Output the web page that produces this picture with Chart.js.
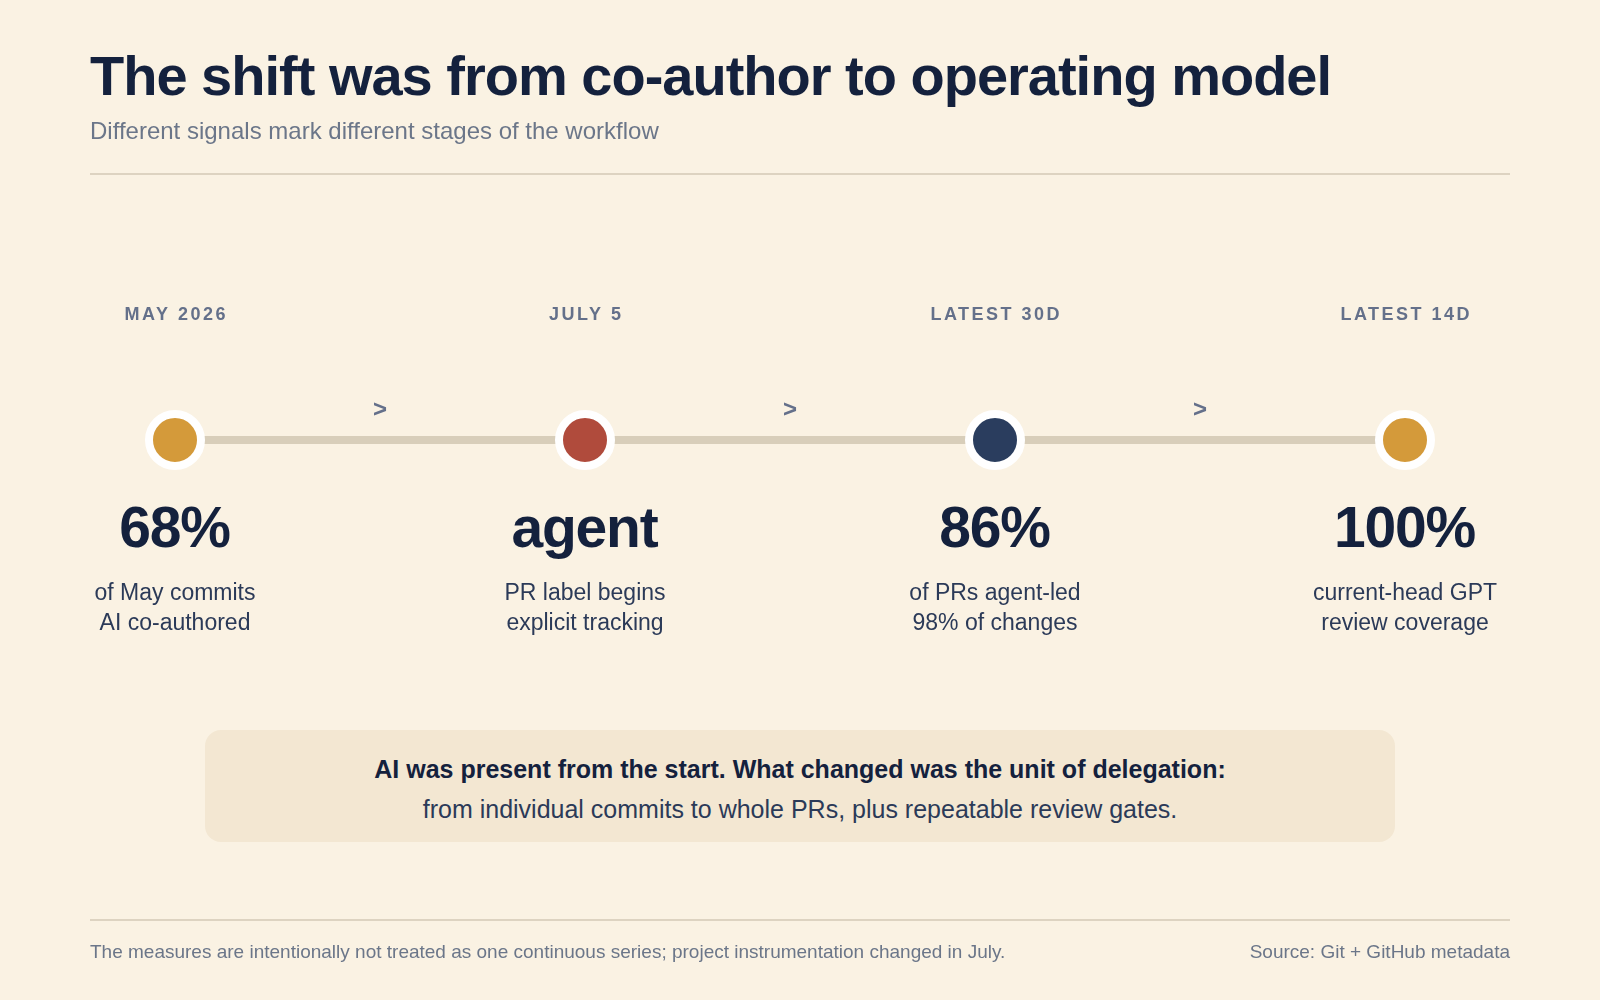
<!DOCTYPE html>
<html>
<head>
<meta charset="utf-8">
<script src="https://cdn.jsdelivr.net/npm/chart.js@4.4.1/dist/chart.umd.min.js"></script>
<style>
  html, body { margin: 0; padding: 0; }
  body {
    width: 1600px; height: 1000px; position: relative; overflow: hidden;
    background: #faf2e3;
    font-family: "Liberation Sans", Arial, Helvetica, sans-serif;
  }
  #timeline { position: absolute; left: 0; top: 0; }
  .abs { position: absolute; white-space: nowrap; }
  h1 {
    margin: 0; left: 90px; top: 47.6px;
    font-size: 56px; line-height: 56px; font-weight: 700; color: #14213d;
    letter-spacing: -1px;
  }
  .sub {
    left: 90px; top: 119.2px;
    font-size: 24px; line-height: 24px; color: #6b7689;
  }
  .rule { left: 90px; width: 1420px; height: 2px; background: #ddd3c1; }
  .callout {
    left: 205px; top: 730px; width: 1190px; height: 112px;
    background: #f3e7d2; border-radius: 16px;
    text-align: center; box-sizing: border-box; padding-top: 18.6px;
    font-size: 25px; line-height: 40px; color: #2b3a58;
  }
  .callout b { color: #14213d; }
  .foot {
    top: 942.2px; font-size: 19px; line-height: 19px; color: #6b7689;
  }
</style>
</head>
<body>
<canvas id="timeline" width="1600" height="1000"></canvas>

<h1 class="abs">The shift was from co-author to operating model</h1>
<div class="abs sub">Different signals mark different stages of the workflow</div>
<div class="abs rule" style="top:173px"></div>

<div class="abs callout">
  <b>AI was present from the start. What changed was the unit of delegation:</b><br>
  from individual commits to whole PRs, plus repeatable review gates.
</div>

<div class="abs rule" style="top:919px"></div>
<div class="abs foot" style="left:90px">The measures are intentionally not treated as one continuous series; project instrumentation changed in July.</div>
<div class="abs foot" style="right:90px">Source: Git + GitHub metadata</div>

<script>
// timeline data
var stages = ['MAY 2026', 'JULY 5', 'LATEST 30D', 'LATEST 14D'];
var headlines = ['68%', 'agent', '86%', '100%'];
var notesTop = ['of May commits', 'PR label begins', 'of PRs agent-led', 'current-head GPT'];
var notesBottom = ['AI co-authored', 'explicit tracking', '98% of changes', 'review coverage'];
var nodeColors = ['#d49a3a', '#b04b3c', '#2a3d5e', '#d49a3a'];

var steps = stages.map(function(s, i) { return {x: i, y: 0}; });

var FONT = '"Liberation Sans", Arial, Helvetica, sans-serif';

var labelsPlugin = {
    id: 'stageLabels',
    afterDatasetsDraw: function(chart) {
        var ctx = chart.ctx;
        var xs = chart.scales.x;
        var ys = chart.scales.y;
        var py = ys.getPixelForValue(0);
        ctx.save();
        ctx.textAlign = 'center';
        ctx.textBaseline = 'alphabetic';

        // arrows between stages
        ctx.fillStyle = '#64708a';
        ctx.font = 'bold 24px ' + FONT;
        for (var i = 0; i < stages.length - 1; i++) {
            ctx.fillText('>', xs.getPixelForValue(i + 0.5), py - 23);
        }

        for (let i = 0; i < stages.length; i++) {
            var px = xs.getPixelForValue(i);

            ctx.fillStyle = '#64708a';
            ctx.font = 'bold 18px ' + FONT;
            ctx.letterSpacing = '2.5px';
            ctx.fillText(stages[i], px + 1.25, py - 120);

            ctx.fillStyle = '#14213d';
            ctx.font = 'bold 57px ' + FONT;
            ctx.letterSpacing = '-1.2px';
            ctx.fillText(headlines[i], px - 0.6, py + 107);
            ctx.letterSpacing = '0px';

            ctx.fillStyle = '#2b3a58';
            ctx.font = '23px ' + FONT;
            ctx.fillText(notesTop[i], px, py + 160);
            ctx.fillText(notesBottom[i], px, py + 190);
        }
        ctx.restore();
    }
};

var ctx = document.getElementById('timeline').getContext('2d');
var chart = new Chart(ctx, {
    type: 'line',
    data: {
        datasets: [{
            label: 'stages',
            data: steps,
            borderColor: '#d8ceba',
            borderWidth: 8,
            borderCapStyle: 'butt',
            pointRadius: 26,
            pointHoverRadius: 26,
            pointBackgroundColor: nodeColors,
            pointBorderColor: '#ffffff',
            pointBorderWidth: 8,
            pointHoverBorderWidth: 8,
            tension: 0
        }]
    },
    options: {
        responsive: false,
        animation: false,
        devicePixelRatio: 1,
        layout: { autoPadding: false, padding: { left: 0, right: 0, top: 0, bottom: 120 } },
        scales: {
            x: { type: 'linear', display: false, min: -175 / 410, max: 1425 / 410 },
            y: { type: 'linear', display: false, min: -1, max: 1 }
        },
        plugins: {
            legend: { display: false },
            tooltip: { enabled: false },
            title: { display: false }
        },
        events: []
    },
    plugins: [labelsPlugin]
});
</script>
</body>
</html>
